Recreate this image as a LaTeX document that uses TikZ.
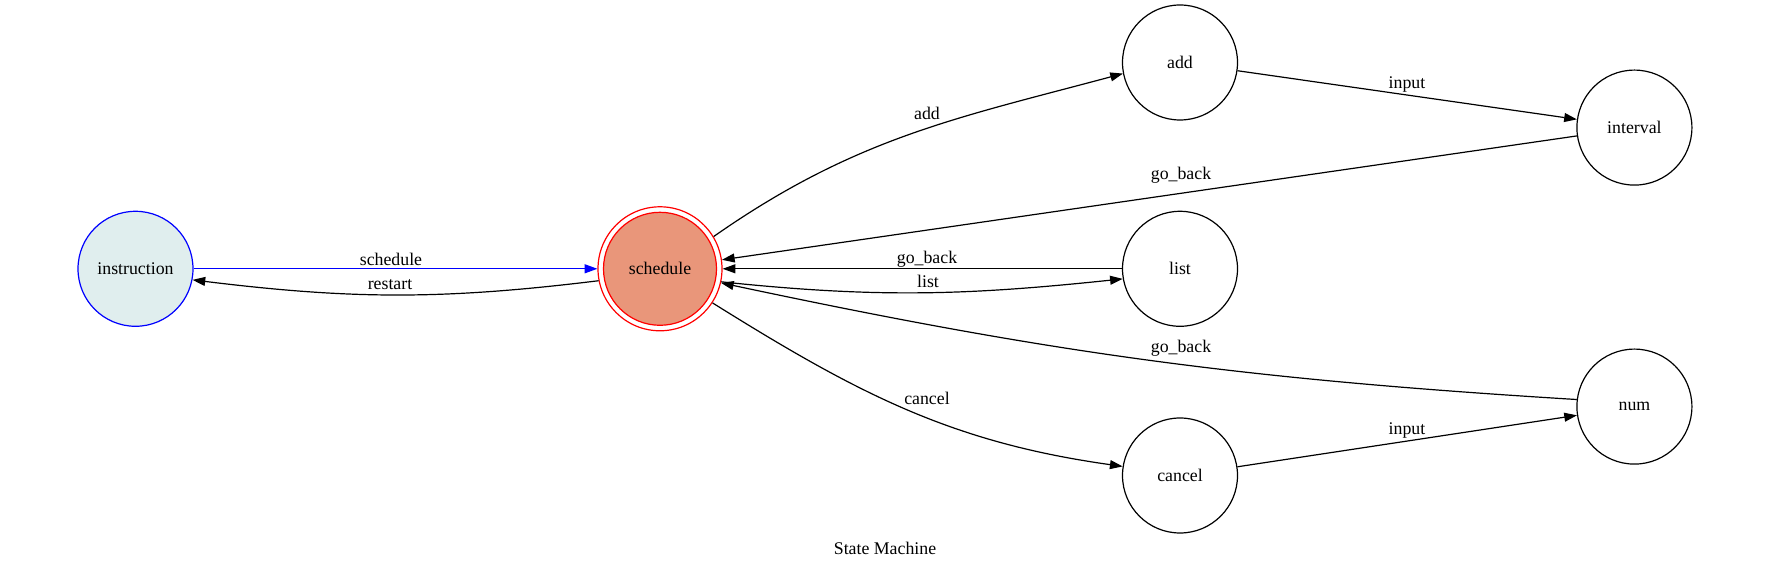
\documentclass[tikz,border=0pt]{standalone}
\usepackage{fontspec}
\setmainfont{Liberation Serif}
\usetikzlibrary{arrows.meta}
\definecolor{azuretwo}{HTML}{E0EEEE}
\definecolor{dsalmon}{HTML}{E9967A}
\begin{document}
\begin{tikzpicture}[x=1pt,y=1pt,
  txt/.style={font=\fontsize{17.8}{20}\selectfont},
  state/.style={circle, draw, line width=1.2pt, minimum size=115pt, inner sep=0pt, txt},
  edge/.style={line width=1.2pt, -{Triangle[length=12.7pt,width=8.9pt]}},
  lbl/.style={inner sep=0pt, txt}]
\useasboundingbox (0,0) rectangle (1771,569);
% nodes
\node[state, draw=blue, fill=azuretwo] (instruction) at (135.5,300.2) {instruction};
\node[circle, draw=red, line width=1.2pt, minimum size=124pt, inner sep=0pt] (sch) at (660,300.2) {};
\node[state, draw=red, fill=dsalmon, minimum size=113pt] (schedule) at (660,300.2) {schedule};
\node[state] (add) at (1180,506.5) {add};
\node[state] (interval) at (1634.4,441.4) {interval};
\node[state] (list) at (1180,300.2) {list};
\node[state] (num) at (1634.4,162.4) {num};
\node[state] (cancel) at (1180,93.5) {cancel};
% edges
\draw[edge, blue] (instruction.east) -- (sch.west);
\draw[edge] (sch.191) to[out=187,in=-7] (instruction.-11);
\draw[edge] (sch.31) to[out=35,in=195] (add.191);
\draw[edge] (add) -- (interval);
\draw[edge] (interval) -- (sch);
\draw[edge] (list) -- (sch);
\draw[edge] (sch.-12) to[out=-6,in=186] (list.190);
\draw[edge] (num.173) to[out=176.5,in=-12] (sch.-13);
\draw[edge] (sch.-33) to[out=-32,in=172] (cancel.171);
\draw[edge] (cancel) -- (num);
% labels
\node[lbl] (l1) at (391,310) {schedule};
\node[lbl] (l2) at (390,284) {restart};
\node[lbl] (l3) at (927,456) {add};
\node[lbl] (l4) at (1407,484) {input};
\node[lbl] (l5) at (1181,394) {go\_back};
\node[lbl] (l6) at (927,309.7) {go\_back};
\node[lbl] (l7) at (928,287.3) {list};
\node[lbl] (l8) at (1181,220.5) {go\_back};
\node[lbl] (l9) at (927,170.3) {cancel};
\node[lbl] (l10) at (1407,138.3) {input};
\node[lbl] (title) at (885,20.7) {State Machine};
\end{tikzpicture}
\end{document}
